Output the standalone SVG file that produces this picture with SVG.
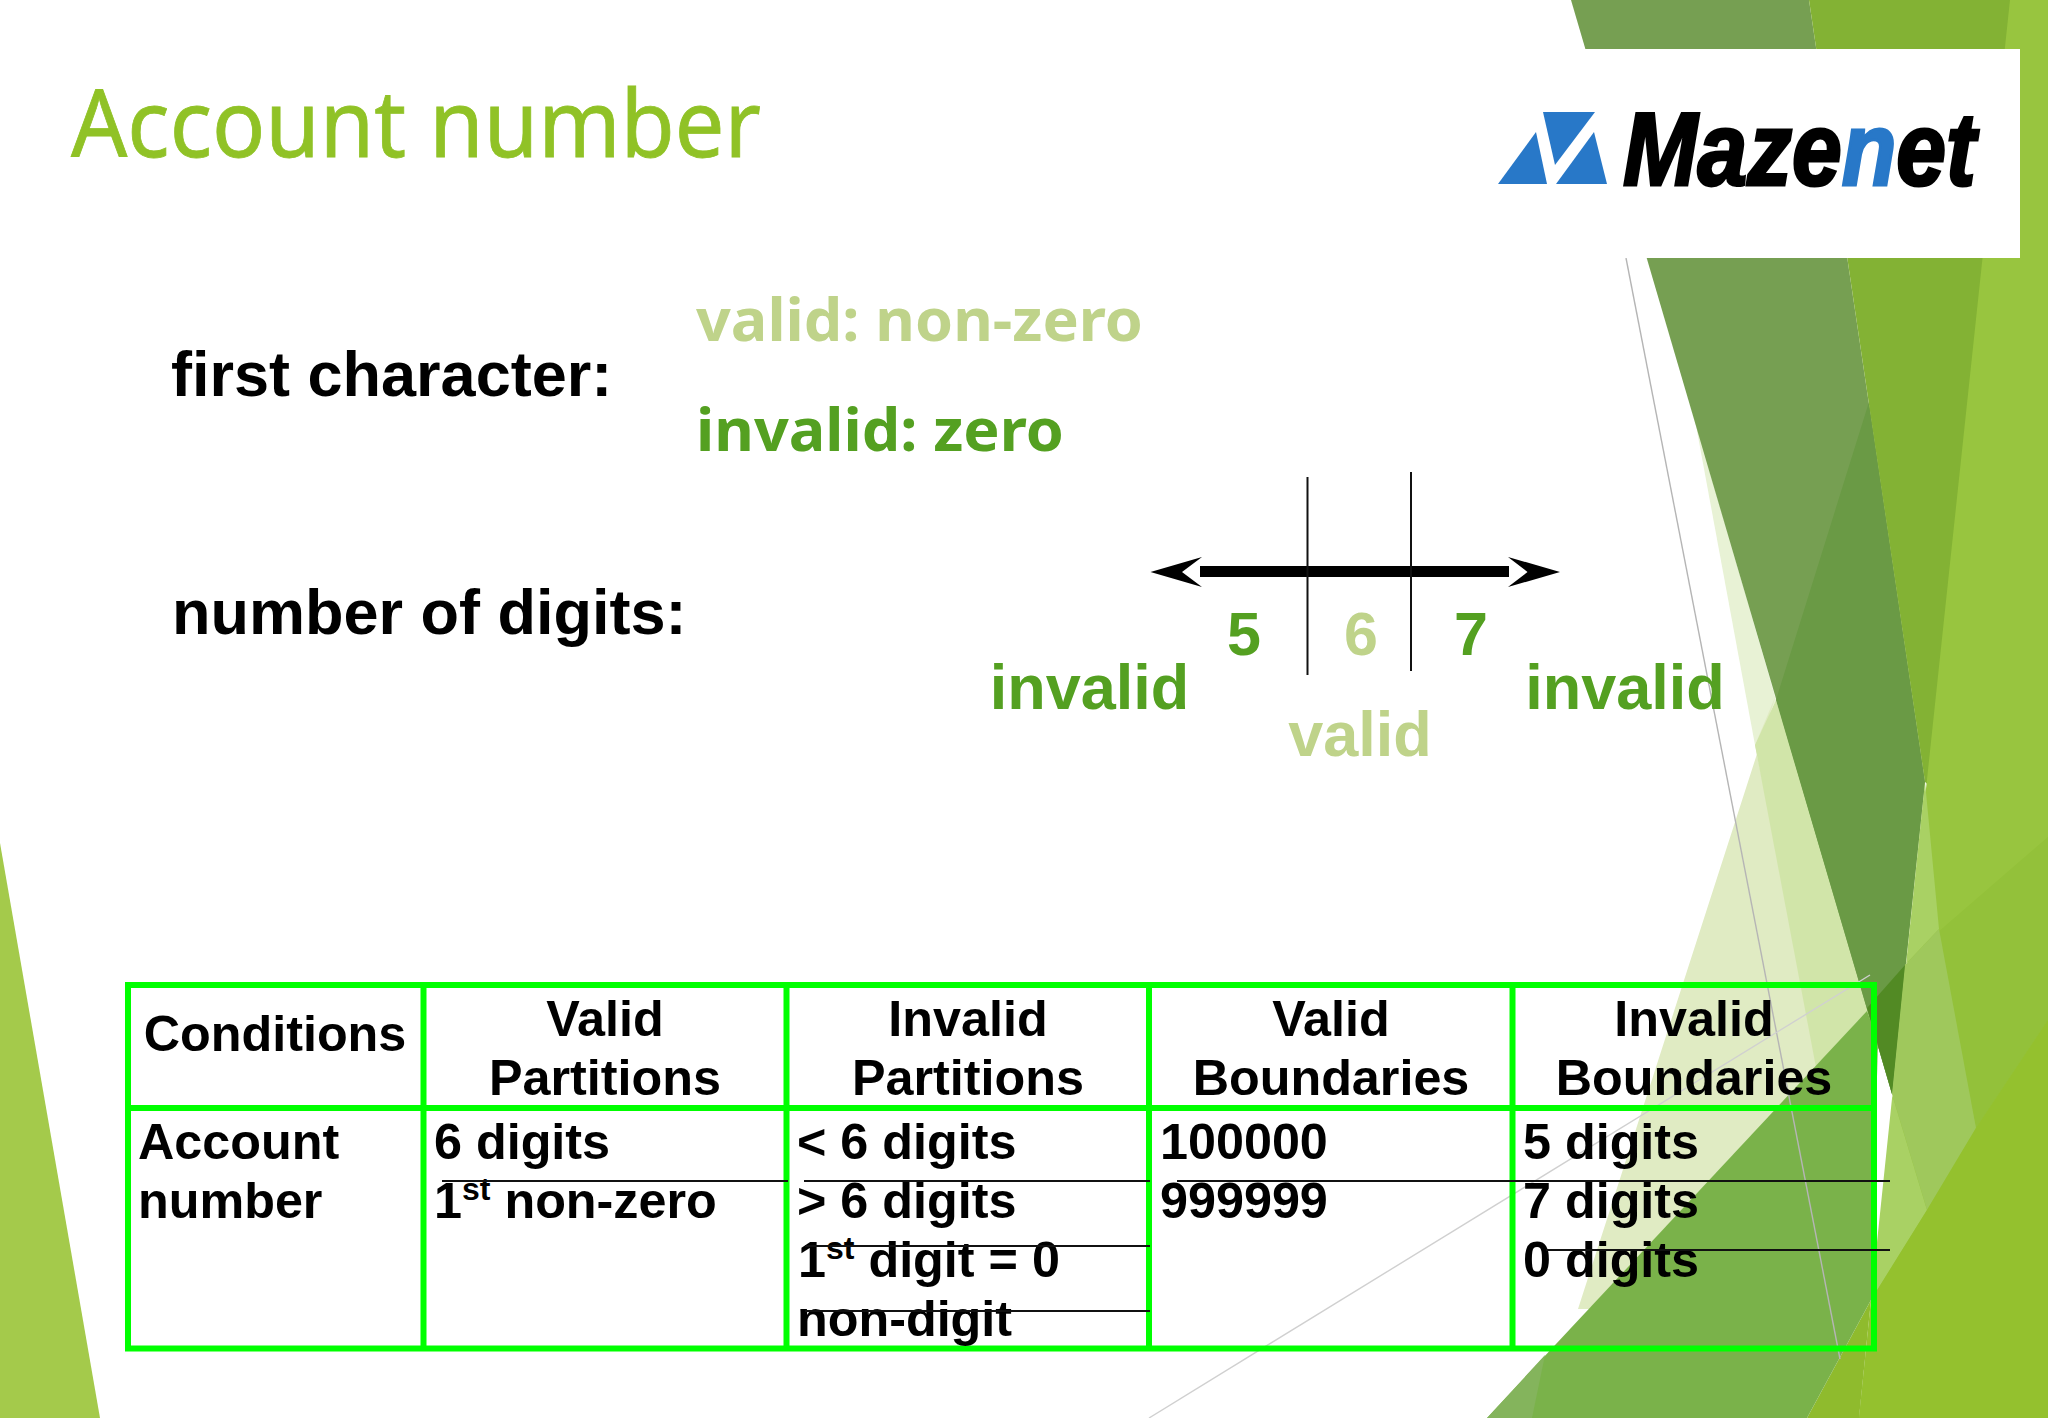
<svg xmlns="http://www.w3.org/2000/svg" width="2048" height="1418" viewBox="0 0 2048 1418">
<style>
.a{font-family:"Liberation Sans",Arial,sans-serif;font-weight:700}
.t{font-family:"Noto Sans","Open Sans",sans-serif}
.cell{font-size:50.300px;fill:#000}
.c{text-anchor:middle}
.big{font-size:63px}
.num{font-size:61px}
.dg{fill:#54a021}
.lg{fill:#bfd38a}
.tb{fill:none;stroke:#00ff00;stroke-width:6}
.ln{stroke:#111;stroke-width:2;fill:none}
</style>
<g id="background">
<rect width="2048" height="1418" fill="#fff"/>
<polygon points="0,843 100,1418 0,1418" fill="#a4ca4b"/>
<polygon points="1695,420 1755,745 1776,700" fill="#e8f2d5"/>
<polygon points="1776,695 1578,1309 1650,1309 1830,1100 1755,745" fill="#e0ebc3"/>
<polygon points="1755,745 1825,1115 1885,1040 1776,700" fill="#d1e5a9"/>
<polygon points="1571,0 1809,0 1925,782 1892,1094" fill="#769f52"/>
<polygon points="1869,402 1925,782 1892,1094 1776,700" fill="#6a9a45"/>
<polygon points="1809,0 2015,0 1945,800 1925,782" fill="#83b234"/>
<polygon points="2010,0 2048,0 2048,1418 1859,1418" fill="#98c53f"/>
<polygon points="1937,933 2048,837 2048,1020 1976,1128" fill="#93c13a"/>
<polygon points="1925,782 1939,929 1905,965 1892,1094 1927,1210 1871,1300" fill="#a9d164"/>
<polygon points="1905,965 1939,929 1976,1128 1927,1210 1892,1094" fill="#9fc85c"/>
<polygon points="1927,1210 1976,1128 2048,1020 2048,1418 1859,1418 1871,1300" fill="#94c12e"/>
<polygon points="1871,1300 1807,1418 1859,1418" fill="#8fbb2d"/>
<polygon points="1867,1011 1487,1418 1807,1418 1871,1300 1878,1040" fill="#7ab24a"/>
<polygon points="1487,1418 1545,1355 1532,1418" fill="#84b45c"/>
<polygon points="1867,1008 1905,965 1892,1094" fill="#528a24"/>
<line x1="1626" y1="258" x2="1840" y2="1359" stroke="#b5b5b5" stroke-width="1.4"/>
<line x1="1149" y1="1418" x2="1870" y2="975" stroke="#d0d0d0" stroke-width="1.4"/>
</g>
<g id="logo">
<rect x="1584" y="49" width="436" height="209" fill="#fff"/>
<polygon points="1498,184 1536,132 1547,184" fill="#2878c8"/>
<polygon points="1543,112 1595,112 1555,165" fill="#2878c8"/>
<polygon points="1594,132 1607,184 1556,184" fill="#2878c8"/>
<text class="a" transform="translate(1623,185) scale(.86,1)" font-size="104" font-style="italic" stroke="#000" stroke-width="3">Maze<tspan fill="#2878c8" stroke="#2878c8">n</tspan>et</text>
</g>
<g id="title"><text class="t" x="71" y="157" font-size="94" fill="#90c226" stroke="#90c226" stroke-width=".8" textLength="690" lengthAdjust="spacingAndGlyphs">Account number</text></g>
<g id="first-character">
<text class="a big" x="171" y="396" fill="#000">first character:</text>
<text class="t lg" x="696" y="341" font-size="60" font-weight="700" textLength="447" lengthAdjust="spacingAndGlyphs">valid: non-zero</text>
<text class="t dg" x="696" y="451" font-size="60" font-weight="700" textLength="368" lengthAdjust="spacingAndGlyphs">invalid: zero</text>
</g>
<g id="number-of-digits">
<text class="a big" x="172" y="634" fill="#000">number of digits:</text>
</g>
<g id="number-line">
<rect x="1200" y="566" width="309" height="11" fill="#000"/>
<line class="ln" x1="1307.500" y1="477" x2="1307.500" y2="675"/>
<line class="ln" x1="1411" y1="472" x2="1411" y2="671"/>
<polygon points="1150.500,572 1202,557 1182,572 1202,587" fill="#000"/>
<polygon points="1560,572 1508,557 1527.500,572 1508,587" fill="#000"/>
<text class="a num dg c" x="1244" y="655">5</text>
<text class="a num lg c" x="1361" y="655">6</text>
<text class="a num dg c" x="1471" y="655">7</text>
<text class="a big dg c" x="1089.500" y="709">invalid</text>
<text class="a big dg c" x="1625" y="709">invalid</text>
<text class="a big lg c" x="1360" y="756">valid</text>
</g>
<g id="table">
<rect class="tb" x="128" y="985" width="1746" height="363.500"/>
<line class="tb" x1="125" y1="1108" x2="1877" y2="1108"/>
<line class="tb" x1="423.500" y1="985" x2="423.500" y2="1348"/>
<line class="tb" x1="786.500" y1="985" x2="786.500" y2="1348"/>
<line class="tb" x1="1149" y1="985" x2="1149" y2="1348"/>
<line class="tb" x1="1512.500" y1="985" x2="1512.500" y2="1348"/>
<g class="a cell">
<text class="c" x="275" y="1051">Conditions</text>
<text class="c" x="605" y="1036">Valid</text>
<text class="c" x="605" y="1095">Partitions</text>
<text class="c" x="968" y="1036">Invalid</text>
<text class="c" x="968" y="1095">Partitions</text>
<text class="c" x="1331" y="1036">Valid</text>
<text class="c" x="1331" y="1095">Boundaries</text>
<text class="c" x="1694" y="1036">Invalid</text>
<text class="c" x="1694" y="1095">Boundaries</text>
<text x="138" y="1159">Account</text>
<text x="138" y="1218">number</text>
<text x="434" y="1159">6 digits</text>
<text x="434" y="1218">1<tspan font-size="32" dy="-18">st</tspan><tspan dy="18"> non-zero</tspan></text>
<text x="797" y="1159">&lt; 6 digits</text>
<text x="797" y="1218">&gt; 6 digits</text>
<text x="798" y="1277">1<tspan font-size="32" dy="-18">st</tspan><tspan dy="18"> digit = 0</tspan></text>
<text x="797" y="1336">non-digit</text>
<text x="1160" y="1159">100000</text>
<text x="1160" y="1218">999999</text>
<text x="1523" y="1159">5 digits</text>
<text x="1523" y="1218">7 digits</text>
<text x="1523" y="1277">0 digits</text>
</g>
</g>
<g id="connectors">
<line class="ln" x1="442" y1="1181" x2="788" y2="1181"/>
<line class="ln" x1="804" y1="1181" x2="1150" y2="1181"/>
<line class="ln" x1="1177" y1="1181" x2="1890" y2="1181"/>
<line class="ln" x1="805" y1="1246" x2="1150" y2="1246"/>
<line class="ln" x1="805" y1="1311" x2="1150" y2="1311"/>
<line class="ln" x1="1546" y1="1250" x2="1890" y2="1250"/>
</g>
</svg>
